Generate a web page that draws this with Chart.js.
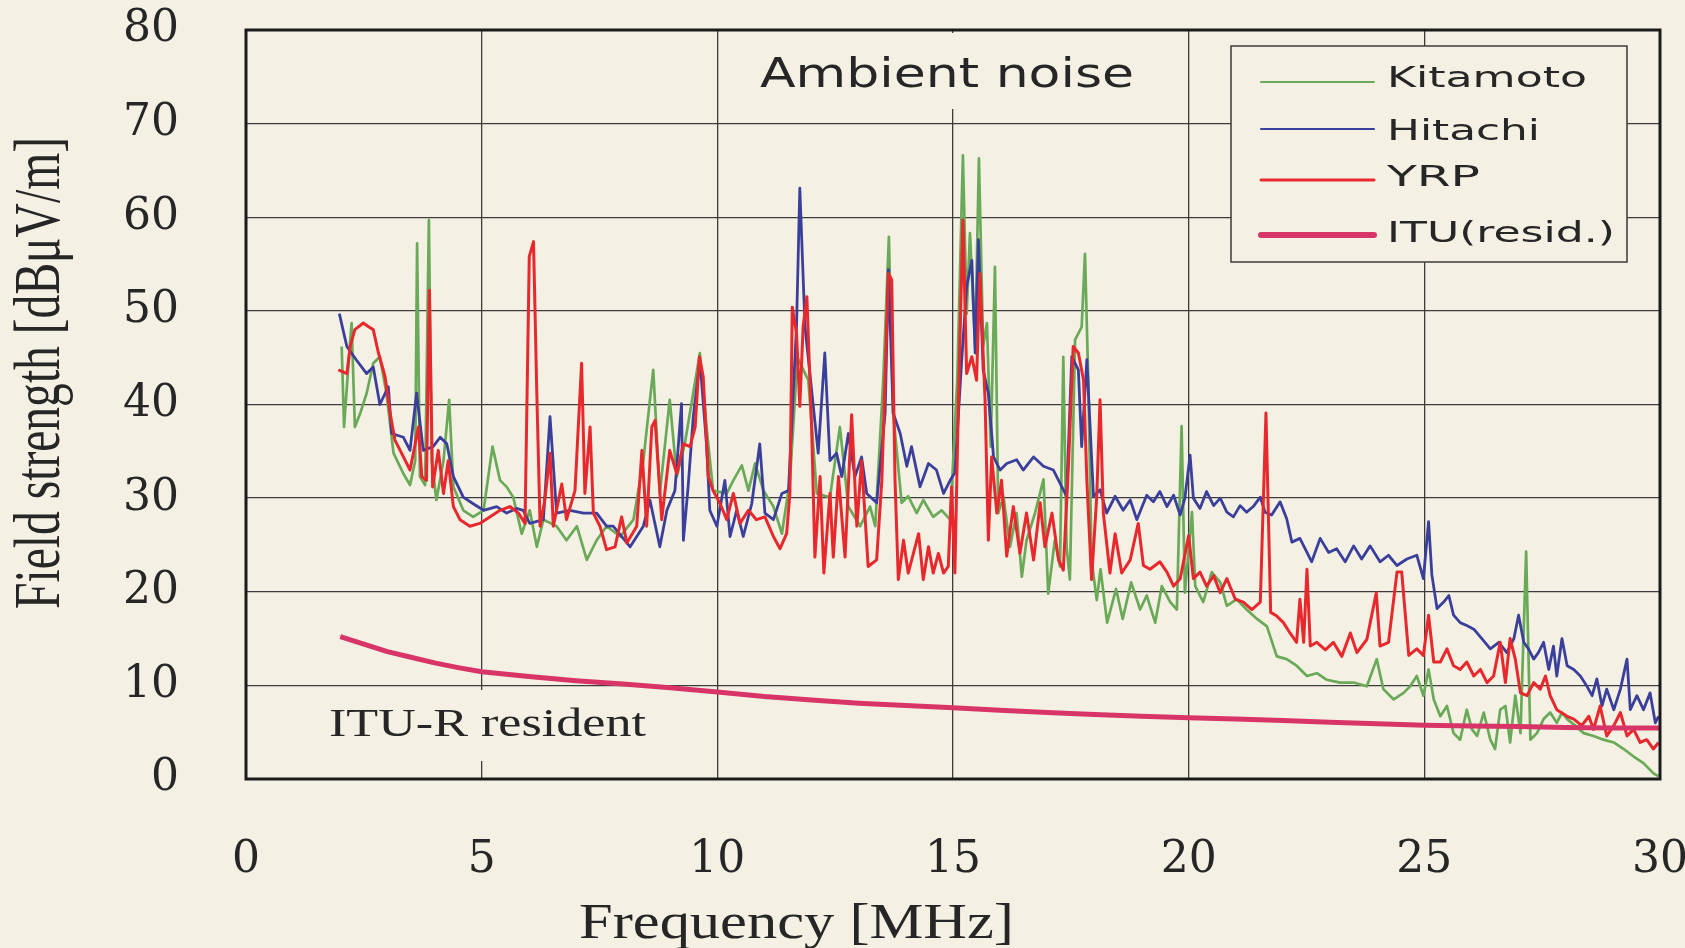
<!DOCTYPE html>
<html>
<head>
<meta charset="utf-8">
<title>Ambient noise</title>
<script src="https://cdn.jsdelivr.net/npm/chart.js@4.4.1/dist/chart.umd.min.js"></script>
<style>
	html, body { margin: 0; padding: 0; background: #f4f1e4; }
	canvas { display: block; }
</style>
</head>
<body>
<canvas id="chart" width="1685" height="948"></canvas>
<script>
// Values (MHz, dBuV/m)
const kitamotoFreq = [2.03, 2.08, 2.17, 2.24, 2.31, 2.42, 2.56, 2.70, 2.84, 2.98, 3.13, 3.34, 3.48, 3.59, 3.63, 3.69, 3.80, 3.88, 3.94, 4.04, 4.19, 4.31, 4.40, 4.61, 4.82, 5.04, 5.23, 5.39, 5.53, 5.67, 5.85, 6.02, 6.17, 6.31, 6.59, 6.80, 7.02, 7.23, 7.44, 7.65, 7.94, 8.22, 8.43, 8.64, 8.78, 8.99, 9.14, 9.31, 9.63, 9.77, 9.91, 10.20, 10.34, 10.52, 10.66, 10.80, 10.98, 11.19, 11.37, 11.54, 11.70, 11.93, 12.11, 12.39, 12.60, 12.78, 13.03, 13.24, 13.35, 13.52, 13.64, 13.73, 13.91, 14.05, 14.23, 14.37, 14.58, 14.76, 14.94, 15.09, 15.21, 15.29, 15.36, 15.47, 15.55, 15.64, 15.72, 15.80, 15.89, 15.96, 16.07, 16.21, 16.35, 16.46, 16.56, 16.74, 16.92, 17.02, 17.16, 17.27, 17.34, 17.41, 17.48, 17.59, 17.73, 17.80, 17.87, 17.94, 18.05, 18.13, 18.27, 18.46, 18.60, 18.78, 18.97, 19.11, 19.29, 19.43, 19.61, 19.75, 19.85, 19.92, 20.07, 20.14, 20.31, 20.49, 20.67, 20.81, 21.02, 21.23, 21.45, 21.66, 21.87, 22.08, 22.29, 22.51, 22.72, 22.93, 23.21, 23.50, 23.78, 23.99, 24.13, 24.35, 24.56, 24.70, 24.84, 24.98, 25.09, 25.20, 25.34, 25.48, 25.62, 25.76, 25.90, 26.01, 26.12, 26.26, 26.40, 26.50, 26.61, 26.72, 26.82, 26.93, 27.04, 27.16, 27.25, 27.39, 27.53, 27.67, 27.81, 27.92, 28.03, 28.20, 28.38, 28.59, 28.80, 29.02, 29.23, 29.44, 29.65, 29.86, 29.97];
const kitamotoLevel = [46.2, 37.6, 44.0, 48.7, 37.6, 39.0, 41.2, 44.4, 45.1, 41.2, 34.8, 32.6, 31.4, 34.0, 57.2, 32.3, 31.4, 59.7, 34.0, 29.8, 34.0, 40.5, 31.2, 28.7, 28.0, 28.7, 35.5, 31.9, 31.2, 30.1, 26.2, 28.7, 24.8, 27.7, 27.0, 25.5, 27.0, 23.4, 25.5, 27.0, 25.9, 27.7, 34.0, 43.7, 30.5, 40.5, 32.3, 35.8, 45.5, 37.6, 30.8, 30.5, 31.9, 33.5, 30.8, 33.7, 30.8, 29.1, 26.2, 31.9, 45.0, 42.6, 30.5, 30.1, 37.6, 29.1, 27.0, 29.1, 27.0, 42.6, 57.9, 39.1, 29.5, 30.2, 28.4, 29.8, 28.0, 28.7, 27.7, 42.6, 66.6, 49.7, 58.3, 46.2, 66.3, 46.2, 48.7, 35.5, 54.7, 28.4, 30.2, 24.8, 28.4, 21.6, 25.5, 28.4, 32.0, 19.8, 25.5, 22.7, 45.1, 24.8, 21.3, 46.9, 48.3, 56.1, 42.6, 23.4, 19.1, 22.4, 16.7, 20.3, 17.1, 21.0, 18.1, 19.6, 16.7, 20.6, 18.9, 18.1, 37.7, 19.9, 28.5, 20.6, 18.9, 22.1, 21.0, 18.5, 19.2, 18.1, 17.1, 16.3, 13.1, 12.8, 12.1, 11.0, 11.3, 10.6, 10.3, 10.3, 9.9, 12.8, 9.6, 8.5, 9.2, 9.9, 11.0, 8.9, 11.7, 8.5, 6.7, 7.8, 4.9, 4.2, 7.4, 5.3, 4.6, 7.1, 4.2, 3.2, 7.4, 7.8, 3.9, 8.9, 4.9, 24.3, 4.2, 4.9, 6.4, 7.1, 6.0, 7.1, 6.4, 5.7, 4.9, 4.6, 4.2, 3.9, 3.2, 2.4, 1.7, 0.6, 0.3];

const hitachiFreq = [1.98, 2.14, 2.35, 2.56, 2.70, 2.84, 3.02, 3.09, 3.34, 3.48, 3.62, 3.76, 3.97, 4.12, 4.26, 4.40, 4.61, 4.82, 5.04, 5.32, 5.53, 5.74, 5.88, 6.02, 6.31, 6.45, 6.59, 6.87, 7.16, 7.44, 7.65, 7.79, 8.15, 8.43, 8.57, 8.78, 8.93, 9.10, 9.24, 9.28, 9.38, 9.49, 9.63, 9.77, 9.84, 9.99, 10.16, 10.27, 10.41, 10.55, 10.73, 10.90, 11.01, 11.19, 11.37, 11.51, 11.61, 11.68, 11.75, 11.86, 11.97, 12.14, 12.28, 12.39, 12.53, 12.64, 12.78, 12.92, 13.06, 13.17, 13.38, 13.56, 13.63, 13.73, 13.88, 14.02, 14.12, 14.30, 14.48, 14.65, 14.80, 14.94, 15.04, 15.18, 15.29, 15.40, 15.47, 15.54, 15.64, 15.75, 15.86, 16.00, 16.14, 16.35, 16.49, 16.71, 16.92, 17.13, 17.31, 17.41, 17.52, 17.66, 17.73, 17.84, 17.98, 18.12, 18.26, 18.44, 18.61, 18.76, 18.90, 19.11, 19.25, 19.39, 19.54, 19.68, 19.82, 19.92, 20.03, 20.10, 20.24, 20.38, 20.53, 20.67, 20.81, 20.95, 21.09, 21.23, 21.37, 21.52, 21.62, 21.76, 21.94, 22.08, 22.19, 22.36, 22.51, 22.61, 22.79, 22.97, 23.14, 23.32, 23.50, 23.67, 23.85, 24.06, 24.24, 24.42, 24.63, 24.84, 24.98, 25.09, 25.16, 25.27, 25.41, 25.52, 25.62, 25.76, 25.90, 26.05, 26.22, 26.40, 26.58, 26.75, 26.90, 27.00, 27.11, 27.21, 27.32, 27.42, 27.53, 27.64, 27.74, 27.81, 27.92, 28.03, 28.17, 28.31, 28.45, 28.56, 28.66, 28.77, 28.87, 29.02, 29.16, 29.30, 29.37, 29.51, 29.65, 29.79, 29.90, 29.97];
const hitachiLevel = [49.7, 46.2, 44.7, 43.3, 44.0, 40.0, 41.9, 36.9, 36.5, 35.1, 41.2, 35.1, 35.5, 36.5, 35.8, 32.3, 30.1, 29.4, 28.7, 29.1, 28.4, 28.9, 28.7, 27.3, 27.7, 38.7, 28.4, 28.7, 28.4, 28.4, 27.0, 27.0, 24.8, 27.0, 29.8, 24.8, 28.7, 30.8, 40.1, 25.5, 31.2, 38.7, 44.7, 35.8, 28.7, 27.0, 31.9, 25.9, 28.7, 25.9, 29.4, 35.8, 28.4, 27.7, 30.5, 30.8, 41.2, 48.3, 63.1, 48.3, 43.0, 34.8, 45.5, 34.0, 34.8, 32.3, 36.9, 32.3, 34.4, 30.5, 29.5, 39.1, 54.4, 39.1, 36.9, 33.4, 35.5, 31.2, 33.7, 33.0, 30.5, 31.9, 32.7, 44.4, 52.6, 55.4, 45.5, 57.6, 43.7, 41.2, 34.4, 33.0, 33.7, 34.1, 33.0, 34.4, 33.4, 33.0, 31.2, 30.2, 45.1, 43.7, 35.5, 44.8, 30.2, 30.9, 28.4, 30.2, 28.7, 29.8, 27.7, 30.3, 29.6, 30.7, 29.1, 30.3, 28.2, 30.0, 34.6, 30.0, 28.9, 30.7, 29.2, 30.0, 28.5, 28.0, 29.2, 28.5, 29.1, 30.1, 28.5, 28.2, 29.6, 27.8, 25.3, 25.7, 24.2, 23.2, 25.7, 24.2, 24.6, 23.2, 24.9, 23.5, 24.9, 23.2, 23.9, 22.8, 23.5, 23.9, 21.4, 27.5, 21.8, 18.2, 18.9, 19.6, 17.5, 16.7, 16.4, 16.0, 15.0, 13.9, 14.6, 13.5, 15.0, 17.5, 14.6, 13.9, 12.8, 13.5, 14.6, 11.7, 14.2, 11.0, 15.0, 12.1, 11.7, 11.0, 9.9, 8.9, 10.7, 7.8, 9.6, 7.4, 9.6, 12.8, 7.4, 8.9, 7.4, 9.2, 6.0, 6.7];

const yrpFreq = [1.96, 2.14, 2.21, 2.31, 2.49, 2.60, 2.70, 2.81, 2.95, 3.06, 3.16, 3.30, 3.48, 3.59, 3.66, 3.73, 3.83, 3.89, 3.96, 4.08, 4.19, 4.29, 4.40, 4.54, 4.75, 4.96, 5.18, 5.39, 5.60, 5.78, 5.92, 6.01, 6.10, 6.17, 6.24, 6.34, 6.45, 6.52, 6.70, 6.80, 6.98, 7.12, 7.19, 7.30, 7.37, 7.51, 7.65, 7.83, 7.97, 8.08, 8.29, 8.40, 8.50, 8.61, 8.68, 8.82, 8.99, 9.14, 9.28, 9.42, 9.53, 9.62, 9.70, 9.81, 9.91, 10.06, 10.20, 10.34, 10.48, 10.66, 10.83, 11.01, 11.19, 11.33, 11.47, 11.54, 11.59, 11.68, 11.75, 11.82, 11.90, 12.00, 12.07, 12.18, 12.26, 12.39, 12.46, 12.57, 12.71, 12.85, 12.96, 13.06, 13.20, 13.38, 13.49, 13.63, 13.70, 13.77, 13.84, 13.95, 14.05, 14.16, 14.27, 14.37, 14.48, 14.58, 14.69, 14.80, 14.90, 14.97, 15.04, 15.11, 15.21, 15.29, 15.40, 15.50, 15.57, 15.68, 15.75, 15.82, 15.93, 16.03, 16.14, 16.28, 16.42, 16.56, 16.71, 16.85, 16.95, 17.10, 17.24, 17.34, 17.45, 17.55, 17.66, 17.77, 17.84, 17.94, 18.05, 18.12, 18.19, 18.33, 18.44, 18.58, 18.76, 18.93, 19.04, 19.18, 19.39, 19.54, 19.68, 19.82, 20.00, 20.10, 20.24, 20.38, 20.53, 20.67, 20.81, 20.99, 21.16, 21.34, 21.52, 21.64, 21.74, 21.87, 22.01, 22.15, 22.29, 22.36, 22.44, 22.51, 22.58, 22.72, 22.90, 23.07, 23.25, 23.43, 23.57, 23.78, 23.98, 24.06, 24.24, 24.42, 24.52, 24.67, 24.84, 24.98, 25.09, 25.20, 25.34, 25.48, 25.62, 25.76, 25.90, 26.05, 26.19, 26.33, 26.47, 26.61, 26.72, 26.82, 26.93, 27.04, 27.18, 27.32, 27.46, 27.57, 27.67, 27.81, 28.03, 28.17, 28.34, 28.49, 28.59, 28.73, 28.87, 29.02, 29.16, 29.30, 29.44, 29.58, 29.72, 29.86, 29.97];
const yrpLevel = [43.7, 43.3, 46.2, 48.0, 48.7, 48.3, 48.0, 45.5, 43.0, 39.0, 36.2, 34.8, 33.0, 35.8, 37.6, 32.3, 31.9, 52.2, 31.2, 35.1, 30.5, 34.0, 29.1, 27.7, 27.0, 27.3, 28.0, 28.7, 29.1, 28.4, 27.3, 55.8, 57.4, 41.2, 27.0, 29.8, 34.8, 27.0, 31.5, 27.7, 30.8, 44.4, 30.5, 37.6, 28.4, 27.0, 24.5, 24.8, 28.0, 25.2, 27.0, 35.1, 27.0, 37.6, 38.3, 27.7, 35.1, 32.6, 35.8, 35.5, 37.6, 45.1, 43.0, 32.3, 30.8, 29.4, 27.7, 30.5, 27.3, 28.7, 27.7, 28.0, 25.9, 24.6, 26.2, 30.5, 50.4, 47.6, 39.8, 48.3, 51.5, 37.6, 23.7, 32.3, 22.0, 30.5, 23.7, 32.3, 23.7, 38.9, 27.0, 34.0, 22.7, 23.4, 31.9, 54.0, 53.3, 31.9, 21.3, 25.5, 22.0, 24.1, 26.2, 21.3, 24.8, 22.0, 24.1, 22.0, 22.7, 31.2, 22.0, 39.1, 59.7, 43.3, 45.1, 42.6, 54.0, 40.5, 25.5, 34.4, 28.4, 31.9, 23.8, 29.1, 24.1, 28.4, 23.4, 29.5, 24.8, 28.4, 23.4, 22.3, 33.4, 46.2, 45.5, 42.6, 31.9, 21.3, 30.2, 40.5, 28.4, 22.0, 26.2, 22.0, 23.4, 27.3, 22.8, 22.4, 23.2, 22.1, 20.6, 21.4, 26.0, 21.4, 22.1, 20.6, 21.7, 19.9, 21.4, 19.2, 18.9, 18.1, 18.9, 39.1, 17.8, 17.4, 16.7, 15.6, 14.6, 19.2, 14.6, 22.4, 14.2, 14.6, 13.8, 14.6, 13.1, 15.6, 13.5, 14.9, 19.9, 14.2, 14.6, 22.1, 22.1, 13.2, 13.9, 13.2, 17.5, 12.5, 12.5, 13.9, 12.1, 11.7, 12.5, 11.0, 11.7, 10.3, 11.0, 14.6, 10.3, 15.0, 12.8, 9.2, 8.9, 10.3, 9.6, 11.0, 8.9, 7.4, 6.7, 6.4, 5.7, 6.7, 5.3, 7.8, 4.6, 5.7, 7.1, 4.6, 5.3, 3.9, 4.2, 3.2, 3.9];

const ituFreq = [2.0, 2.5, 3.0, 3.5, 4.0, 4.5, 5.0, 6.0, 7.0, 8.0, 9.0, 10.0, 11.0, 12.0, 13.0, 14.0, 15.0, 16.0, 17.0, 18.0, 19.0, 20.0, 21.0, 22.0, 23.0, 24.0, 25.0, 26.0, 27.0, 28.0, 29.0, 30.0];
const ituLevel = [15.2, 14.4, 13.6, 13.0, 12.4, 11.9, 11.45, 10.95, 10.5, 10.15, 9.75, 9.3, 8.8, 8.45, 8.1, 7.85, 7.6, 7.35, 7.1, 6.9, 6.7, 6.55, 6.4, 6.25, 6.05, 5.9, 5.75, 5.65, 5.6, 5.5, 5.45, 5.45];

const seriesNames = ['Kitamoto', 'Hitachi', 'YRP', 'ITU(resid.)'];
const seriesColors = ['#6aa957', '#3b3f9c', '#e8282c', '#d93468'];
const xTicks = [0, 5, 10, 15, 20, 25, 30];
const yTicks = [0, 10, 20, 30, 40, 50, 60, 70, 80];

const PAPER = '#f4f1e4';
const INK = '#262626';

function toPoints( freq, level ) {
	return freq.map( ( f, i ) => ( { x: f, y: level[ i ] } ) );
}

// draws text squeezed or stretched to a given width (the scan is not square)
function fitText( ctx, text, x, y, width, font ) {
	ctx.save();
	ctx.font = font;
	ctx.textAlign = 'left';
	ctx.textBaseline = 'alphabetic';
	const w = ctx.measureText( text ).width;
	ctx.translate( x, y );
	ctx.scale( width / w, 1 );
	ctx.fillText( text, 0, 0 );
	ctx.restore();
}

const paperPlugin = {
	id: 'paper',
	beforeDraw( chart ) {
		const ctx = chart.ctx;
		ctx.save();
		ctx.fillStyle = PAPER;
		ctx.fillRect( 0, 0, chart.width, chart.height );
		ctx.restore();
	},
	// blank boxes behind the title, legend and label hide the grid
	beforeDatasetsDraw( chart ) {
		const ctx = chart.ctx;
		ctx.save();
		ctx.fillStyle = PAPER;
		ctx.fillRect( 740, 33, 420, 76 );
		ctx.fillRect( 1231, 46, 396, 216 );
		ctx.fillRect( 318, 690, 338, 71 );
		ctx.restore();
	},
	afterDatasetsDraw( chart ) {
		const ctx = chart.ctx;
		const a = chart.chartArea;
		ctx.save();

		// frame
		ctx.strokeStyle = '#1b1b1b';
		ctx.lineWidth = 3;
		ctx.strokeRect( a.left, a.top, a.right - a.left, a.bottom - a.top );

		ctx.fillStyle = INK;
		fitText( ctx, 'Ambient noise', 760, 87, 374, '41px "DejaVu Sans"' );
		fitText( ctx, 'ITU-R resident', 329, 736, 317, '40px "Liberation Serif"' );

		// legend
		ctx.strokeStyle = '#3a3a3a';
		ctx.lineWidth = 1.5;
		ctx.strokeRect( 1231, 46, 396, 216 );
		const lineY = [ 82, 129, 180, 235 ];
		const textY = [ 87, 140, 186, 242 ];
		const textW = [ 200, 153, 93, 228 ];
		const widths = [ 2, 2, 3, 6 ];
		seriesNames.forEach( ( name, i ) => {
			ctx.strokeStyle = seriesColors[ i ];
			ctx.lineWidth = widths[ i ];
			ctx.lineCap = 'round';
			ctx.beginPath();
			ctx.moveTo( 1261, lineY[ i ] );
			ctx.lineTo( 1374, lineY[ i ] );
			ctx.stroke();
			ctx.fillStyle = INK;
			fitText( ctx, name, 1387, textY[ i ], textW[ i ], '29px "DejaVu Sans"' );
		} );

		// axis titles
		fitText( ctx, 'Frequency [MHz]', 579, 938, 435, '50px "Liberation Serif"' );
		ctx.translate( 59, 609 );
		ctx.rotate( -Math.PI / 2 );
		fitText( ctx, 'Field strength [dBμV/m]', 0, 0, 472, '65px "Liberation Serif"' );
		ctx.restore();
	}
};

function makeSet( i, freq, level, width, order ) {
	return {
		label: seriesNames[ i ],
		data: toPoints( freq, level ),
		borderColor: seriesColors[ i ],
		backgroundColor: seriesColors[ i ],
		borderWidth: width,
		borderJoinStyle: 'round',
		pointRadius: 0,
		tension: 0,
		fill: false,
		order: order
	};
}

new Chart( document.getElementById( 'chart' ), {
	type: 'line',
	data: {
		datasets: [
			makeSet( 0, kitamotoFreq, kitamotoLevel, 2.7, 3 ),
			makeSet( 1, hitachiFreq, hitachiLevel, 2.8, 2 ),
			makeSet( 2, yrpFreq, yrpLevel, 3, 1 ),
			makeSet( 3, ituFreq, ituLevel, 5, 0 )
		]
	},
	options: {
		responsive: false,
		devicePixelRatio: 1,
		animation: false,
		layout: { padding: { top: 30, right: 25, left: 0, bottom: 0 } },
		plugins: {
			legend: { display: false },
			tooltip: { enabled: false }
		},
		scales: {
			x: {
				type: 'linear',
				min: 0,
				max: 30,
				// fixed axis band; label overhang must not shrink the plot
				afterFit: ( s ) => { s.height = 169; s.paddingLeft = 0; s.paddingRight = 0; },
				afterBuildTicks: ( s ) => { s.ticks = xTicks.map( v => ( { value: v } ) ); },
				ticks: {
					font: { family: 'DejaVu Serif', size: 44 },
					color: INK,
					padding: 55,
					maxRotation: 0
				},
				grid: { color: '#3c3c3c', lineWidth: 1.3, drawTicks: false },
				border: { display: false }
			},
			y: {
				min: 0,
				max: 80,
				afterFit: ( s ) => { s.width = 246; s.paddingTop = 0; s.paddingBottom = 0; },
				afterBuildTicks: ( s ) => { s.ticks = yTicks.map( v => ( { value: v } ) ); },
				ticks: {
					font: { family: 'DejaVu Serif', size: 44 },
					color: INK,
					padding: 67
				},
				grid: { color: '#3c3c3c', lineWidth: 1.3, drawTicks: false },
				border: { display: false }
			}
		}
	},
	plugins: [ paperPlugin ]
} );
</script>
</body>
</html>
